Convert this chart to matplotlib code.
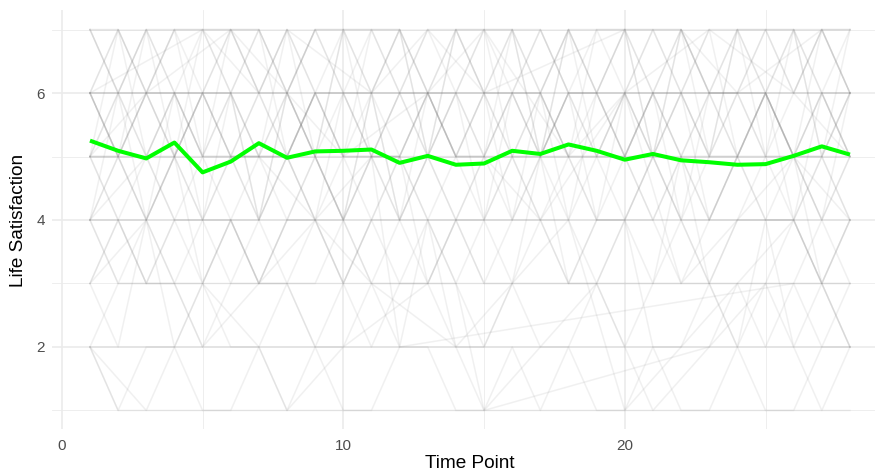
import numpy as np
import matplotlib
matplotlib.use("Agg")
import matplotlib.pyplot as plt
from matplotlib.ticker import MultipleLocator

# Time points and the mean life-satisfaction trajectory
time_points = list(range(1, 29))
mean_satisfaction = [5.25, 5.09, 4.97, 5.22, 4.75, 4.92, 5.21, 4.98, 5.08, 5.09,
                     5.11, 4.90, 5.01, 4.87, 4.89, 5.09, 5.04, 5.19, 5.09, 4.95,
                     5.04, 4.94, 4.91, 4.87, 4.88, 5.01, 5.16, 5.03]

# Individual responses (1-7 scale), one string per participant, '.' = missing wave
participants = [
    "7777777 7777777 7777777 7777777",
    "6666666 6666666 6666666 6666666",
    "5555555 5555555 5555555 5555555",
    "4444444 4444444 4444444 4444444",
    "4333333 3333333 3333333 3333333",
    "2222222 2222222 2222222 2222222",
    "2111111 1111111 1111111 1111111",
    "7767776 6777677 7767776 6777677",
    "6676666 7666766 6667666 7666676",
    "6565665 5656656 5665656 6556565",
    "5565556 5545565 5556554 5565556",
    "5454455 4545544 5455445 4554454",
    "4434443 4434443 4443444 3444434",
    "6756765 7675676 5767567 6576756",
    "7675767 6576757 6757675 7675767",
    "5646564 6546456 4656465 6456546",
    "3433343 3343334 3343333 4333433",
    "4545444 5445454 4544545 4454454",
    "6655665 5665566 6556655 6566556",
    "5665655 6566565 5656656 5665665",
    "3242322 3223242 2322342 2324232",
    "2122112 1211221 1212112 1121122",
    "5434543 4543454 3454345 4345434",
    "7677677 6767767 7676776 7677676",
    "6576567 5657656 7565765 6756576",
    "4555455 5455545 5545554 5455545",
    "6545654 5654565 4565456 5456545",
    "3445343 4434534 4353443 5344534",
    "5767576 7576757 6757675 7576757",
    "6766676 6766667 6676667 6667766",
    "2333233 3232333 2333323 3323332",
    "4656464 6546465 6464656 4656465",
    "6545654 5465 2 ............. 343",
    "4343434 3434343 1 ....... 2 32323",
    "6...7.6 7..6.7. 6....7. 7.6..76",
    "5.6..7. 6.5..6. 7..5.6. .7..6.5",
    "3.4.2.3 .4.3..2 .3.4.1. 2.3.4.2",
    "4.5.3.5 .4.5.3. 5.4..6. 3.4.5.4",
    "2.1.3.2 1.2..3. 1.2.3.1 .2.3.12",
    "5566555 6555665 5665556 6655566",
    "6566656 5665665 6656566 5666565",
    "5556555 5655555 6555565 5556555",
    "7667777 6777766 7776677 7667777",
]


def parse(row):
    chars = row.replace(" ", "")
    t = [tp for tp, c in zip(time_points, chars) if c != "."]
    v = [int(c) for c in chars if c != "."]
    return t, v


plt.rcParams["font.family"] = ["Liberation Sans", "DejaVu Sans"]

fig = plt.figure(figsize=(8.75, 4.75), dpi=100)
ax = fig.add_axes([0.0594, 0.0958, 0.9554, 0.8821])

# individual trajectories
for row in participants:
    t, v = parse(row)
    ax.plot(t, v, color="#7f7f7f", alpha=0.11, lw=1.1,
            solid_joinstyle="round", zorder=2)

# mean trajectory
ax.plot(time_points, mean_satisfaction, color="#00ff00", lw=2.9,
        solid_joinstyle="round", solid_capstyle="butt", zorder=3)

ax.set_xlim(-0.35, 29.35)
ax.set_ylim(0.7, 7.3)
ax.xaxis.set_major_locator(MultipleLocator(10))
ax.xaxis.set_minor_locator(MultipleLocator(5))
ax.yaxis.set_major_locator(MultipleLocator(2))
ax.yaxis.set_minor_locator(MultipleLocator(1))

ax.grid(which="major", color="#ebebeb", lw=1.2, zorder=0)
ax.grid(which="minor", color="#ebebeb", lw=0.6, zorder=0)
ax.set_axisbelow(True)
for s in ax.spines.values():
    s.set_visible(False)

ax.tick_params(which="both", length=0)
ax.tick_params(axis="x", labelsize=11, labelcolor="#4d4d4d", pad=7)
ax.tick_params(axis="y", labelsize=11, labelcolor="#4d4d4d", pad=5)

ax.set_xlabel("Time Point", fontsize=13.7, color="black")
ax.set_ylabel("Life Satisfaction", fontsize=13.7, color="black", labelpad=7)
ax.xaxis.set_label_coords((470 - 52) / 836, -(455 - 429.5) / 419)

fig.savefig("out.png", dpi=100)
